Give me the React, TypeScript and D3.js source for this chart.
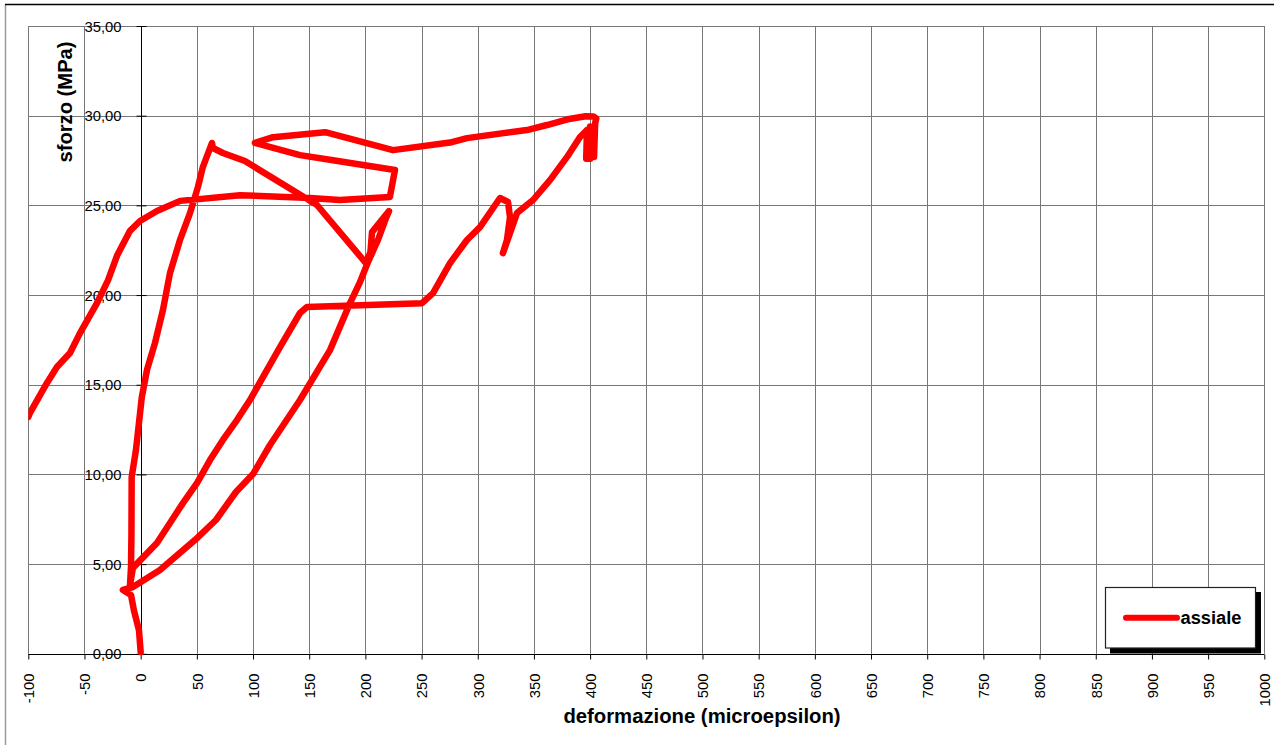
import * as d3 from 'd3';
import React, { useEffect, useRef } from 'react';

// strain readings (microepsilon), in recording order
const deformazione = [
  0, -1.5, -6, -8.6, -15.8,
  -6.9, 17.2, 48.3, 67, 84.8, 100, 115.1, 141.8, 168.5, 186.3, 195.2, 202.3, 211.2, 218.3, 221,
  205.9, 204.5, 200.5,
  156.9, 92.8, 73.2, 64.3, 63.5,
  55.4, 51, 43.9, 35, 26.1, 19.8, 12.7, 5.6, 1, -4.2, -8, -8.2, -8.6, -9.5,
  -6.9, 14.5, 26.1, 37.6, 50.1, 61.7, 73.2, 85.7, 97.3, 124, 141.8, 148,
  250.4, 260.2, 275.3, 290.4, 302, 319.8, 326.9, 328.7, 326, 322.4, 328.7, 334.9, 349.2, 364.3, 379.5, 391, 397.2,
  396.5, 400, 400, 403.5, 404.5, 405.5,
  403, 396, 380, 361.6, 343.8, 290.4, 275.3, 224.6, 164.2, 117.8, 101.7,
  141.8, 171.2, 226.3, 221.8, 177.3, 150.7, 88.4, 35.1, 14.5, -0.6, -9.5, -21, -29, -38.9, -54, -62.9, -74.5, -83.4, -98.6, -100,
];

// stress readings (MPa)
const sforzo = [
  0.1, 1.31, 2.42, 3.28, 3.56,
  3.72, 4.67, 6.34, 7.46, 9.02, 10.02, 11.64, 14.15, 16.93, 19.55, 20.72, 21.84, 23.07, 24.29, 24.68,
  23.51, 22.4, 21.78,
  25.02, 27.47, 27.92, 28.2, 28.48,
  27.15, 26.03, 24.57, 23.07, 21.23, 19.16, 17.32, 15.82, 14.3, 11.36, 9.86, 6.73, 4.84, 3.83,
  4.79, 6.18, 7.29, 8.4, 9.52, 10.8, 11.92, 13.03, 14.15, 17.1, 19.0, 19.33,
  19.55, 20.11, 21.78, 23.07, 23.79, 25.41, 25.19, 24.35, 23.07, 22.34, 23.45, 24.57, 25.3, 26.41, 27.7, 28.81, 29.2,
  27.6, 27.6, 29.4, 27.7, 29.6, 29.85,
  29.95, 29.97, 29.8, 29.48, 29.2, 28.75, 28.5, 28.08, 29.08, 28.8, 28.48,
  27.8, 27.52, 26.97, 25.47, 25.3, 25.41, 25.57, 25.25, 24.69, 24.13, 23.58, 22.2, 20.83, 19.55, 17.88, 16.77, 15.99, 15.1, 13.42, 13.2,
];

const xTicks = [-100, -50, 0, 50, 100, 150, 200, 250, 300, 350, 400, 450, 500, 550, 600, 650, 700, 750, 800, 850, 900, 950, 1000];
const yTicks = [0, 5, 10, 15, 20, 25, 30, 35];
const yTickLabels = ['0,00', '5,00', '10,00', '15,00', '20,00', '25,00', '30,00', '35,00'];
const seriesName = 'assiale';

const FONT = '"Liberation Sans", Arial, sans-serif';

const App = () => {
  const svgRef = useRef<SVGSVGElement>(null);

  useEffect(() => {
    const width = 1274;
    const height = 745;

    const svg = d3.select(svgRef.current).attr('width', width).attr('height', height);
    svg.selectAll('*').remove();

    // scales
    const x = d3.scaleLinear().domain([-100, 1000]).range([28.3, 1264.3]);
    const y = d3.scaleLinear().domain([0, 35]).range([653.8, 26]);

    svg.append('rect').attr('width', width).attr('height', height).attr('fill', '#fff');

    // outer chart frame (only top and left visible)
    svg.append('line').attr('x1', 5.5).attr('x2', 5.5).attr('y1', 4).attr('y2', height)
      .attr('stroke', '#9a9a9a').attr('stroke-width', 1.5);
    svg.append('line').attr('x1', 5).attr('x2', width).attr('y1', 4.5).attr('y2', 4.5)
      .attr('stroke', '#000').attr('stroke-width', 1.5);

    // gridlines
    const grid = svg.append('g').attr('stroke', '#777').attr('stroke-width', 1);
    grid.selectAll('line.v').data(xTicks).join('line').attr('class', 'v')
      .attr('x1', (d) => Math.round(x(d)) + 0.5).attr('x2', (d) => Math.round(x(d)) + 0.5)
      .attr('y1', y(35)).attr('y2', y(0));
    grid.selectAll('line.h').data(yTicks).join('line').attr('class', 'h')
      .attr('x1', x(-100)).attr('x2', x(1000))
      .attr('y1', (d) => Math.round(y(d)) + 0.5).attr('y2', (d) => Math.round(y(d)) + 0.5);

    // x axis along y = 0
    const xAxis = svg.append('g')
      .attr('transform', `translate(0, ${Math.round(y(0)) + 0.5})`)
      .call(d3.axisBottom(x).tickValues(xTicks).tickSize(5).tickFormat((d) => String(d)));
    xAxis.select('.domain').remove();
    xAxis.append('line').attr('x1', x(-100)).attr('x2', x(1000)).attr('stroke', '#000').attr('stroke-width', 1.2);
    xAxis.selectAll('.tick line').attr('stroke', '#000');
    xAxis.selectAll('.tick text')
      .attr('transform', 'rotate(-90)')
      .attr('x', -19).attr('y', 0).attr('dy', '0.36em')
      .attr('text-anchor', 'end')
      .attr('fill', '#000')
      .style('font-size', '14.8px')
      .style('font-family', FONT);

    // y axis along x = 0
    const yAxis = svg.append('g')
      .attr('transform', `translate(${Math.round(x(0)) + 0.5}, 0)`)
      .call(d3.axisLeft(y).tickValues(yTicks).tickSize(5).tickPadding(15)
        .tickFormat((d, i) => yTickLabels[i]));
    yAxis.select('.domain').remove();
    yAxis.append('line').attr('y1', y(0)).attr('y2', y(35)).attr('stroke', '#000').attr('stroke-width', 1);
    yAxis.selectAll('.tick line').attr('stroke', '#000').attr('x2', 5).attr('x1', -5);
    yAxis.selectAll('.tick text')
      .attr('fill', '#000')
      .attr('dy', '0.35em')
      .style('font-size', '14.8px')
      .style('font-family', FONT);

    // axis titles
    svg.append('text')
      .attr('transform', `translate(64.5, 102) rotate(-90)`)
      .attr('text-anchor', 'middle').attr('dy', '0.35em')
      .style('font-family', FONT).style('font-weight', 'bold').style('font-size', '20.2px')
      .text('sforzo (MPa)');
    svg.append('text')
      .attr('x', 702).attr('y', 723)
      .attr('text-anchor', 'middle')
      .style('font-family', FONT).style('font-weight', 'bold').style('font-size', '20.3px')
      .text('deformazione (microepsilon)');

    // data line
    svg.append('clipPath').attr('id', 'plot-clip')
      .append('rect').attr('x', x(-100)).attr('y', y(35) - 10)
      .attr('width', x(1000) - x(-100)).attr('height', y(0) - y(35) + 20);

    const pts = deformazione.map((d, i) => [d, sforzo[i]] as [number, number]);
    const line = d3.line<[number, number]>().x((d) => x(d[0])).y((d) => y(d[1]));
    svg.append('path').datum(pts)
      .attr('clip-path', 'url(#plot-clip)')
      .attr('d', line)
      .attr('fill', 'none').attr('stroke', '#ff0000').attr('stroke-width', 6.5)
      .attr('stroke-linejoin', 'round').attr('stroke-linecap', 'round');

    // legend with drop shadow
    const lg = svg.append('g');
    lg.append('rect').attr('x', 1110).attr('y', 592).attr('width', 151).attr('height', 61.5).attr('fill', '#000');
    lg.append('rect').attr('x', 1105.5).attr('y', 587.5).attr('width', 150).attr('height', 60.5)
      .attr('fill', '#fff').attr('stroke', '#222').attr('stroke-width', 1.2);
    lg.append('line').attr('x1', 1126).attr('x2', 1177).attr('y1', 617.7).attr('y2', 617.7)
      .attr('stroke', '#ff0000').attr('stroke-width', 6).attr('stroke-linecap', 'round');
    lg.append('text').attr('x', 1180.5).attr('y', 624)
      .style('font-family', FONT).style('font-weight', 'bold').style('font-size', '18.3px')
      .text(seriesName);
  }, []);

  return <svg ref={svgRef} style={{ position: 'absolute', left: 0, top: 0 }} />;
};

export default App;
